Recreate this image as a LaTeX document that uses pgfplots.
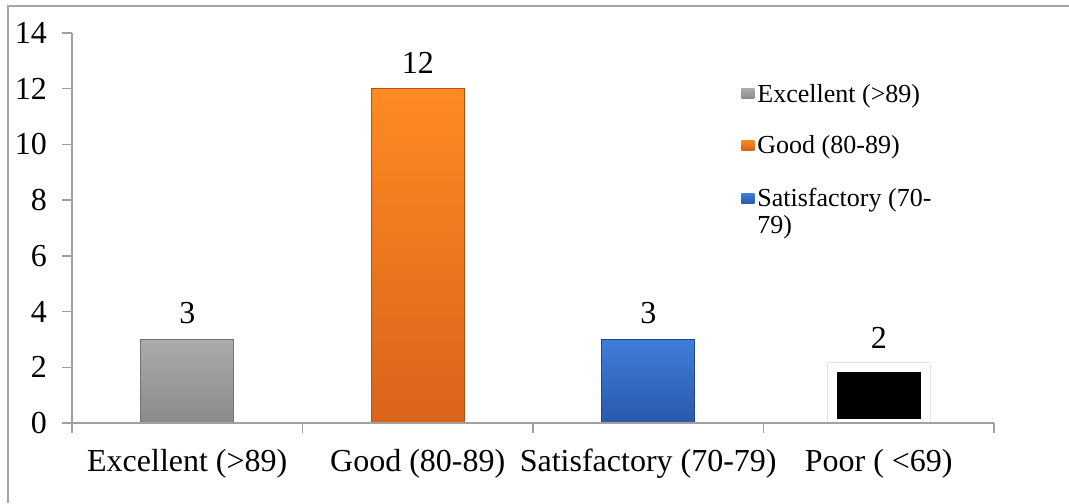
\documentclass[border=0pt]{standalone}
\usepackage{pgfplots}
\pgfplotsset{compat=1.18}
\usepackage{fontspec}
\setmainfont{Liberation Serif}
\definecolor{axisgray}{HTML}{A0A0A0}
\definecolor{framegray}{HTML}{A6A6A6}
\definecolor{grayTop}{HTML}{ABABAB}
\definecolor{grayBot}{HTML}{8A8A8A}
\definecolor{grayEdge}{HTML}{737373}
\definecolor{orTop}{HTML}{FF8A22}
\definecolor{orBot}{HTML}{D8631B}
\definecolor{orEdge}{HTML}{B35014}
\definecolor{blTop}{HTML}{3E7DDB}
\definecolor{blBot}{HTML}{2B59AA}
\definecolor{blEdge}{HTML}{23478A}

\pgfplotsset{
  boxlegend/.style={legend image code/.code={%
    \path[##1, draw=none] (0pt,1.8pt) rectangle (6.5pt,6.8pt);}},
}

\begin{document}
\begin{tikzpicture}
\path[use as bounding box] (0,0) rectangle (534.5pt,251.5pt);
% outer chart frame (only left and top edges are inside the picture)
\draw[framegray, line width=0.75pt] (4pt,0) -- (4pt,248.5pt) -- (534.5pt,248.5pt);

\begin{axis}[
    at={(36pt,40pt)}, anchor=south west,
    scale only axis, width=461pt, height=195pt,
    xmin=-0.5, xmax=3.5, ymin=0, ymax=14,
    enlargelimits=false,
    axis x line*=bottom, axis y line*=left,
    axis line style={axisgray, line width=0.75pt, -},
    tick style={axisgray, line width=0.75pt},
    tick align=outside, major tick length=5pt,
    xtick={-0.5,0.5,1.5,2.5,3.5}, xticklabels={},
    extra x ticks={0,1,2,3},
    extra x tick labels={Excellent (>89), Good (80-89), Satisfactory (70-79), Poor ( <69)},
    extra x tick style={major tick length=0pt, xticklabel style={yshift=-9.5pt}},
    ytick={0,2,...,14},
    yticklabel style={xshift=-4pt},
    ticklabel style={font=\fontsize{16}{19}\selectfont, text=black},
    /pgf/number format/assume math mode=true,
    nodes near coords,
    nodes near coords style={font=\fontsize{16}{19}\selectfont, text=black, yshift=4pt},
    axis on top,
    legend style={at={(0.7256,0.878)}, anchor=north west, draw=none, fill=none,
        font=\fontsize{13}{14}\selectfont, inner sep=0pt, row sep=12.3pt,
        cells={anchor=base west}, nodes={inner sep=1.5pt}},
]

\addplot[ybar, bar width=46.5pt, bar shift=0pt, draw=grayEdge, line width=0.6pt,
    top color=grayTop, bottom color=grayBot, boxlegend] coordinates {(0,3)};
\addlegendentry{Excellent (>89)}

\addplot[ybar, bar width=46.5pt, bar shift=0pt, draw=orEdge, line width=0.6pt,
    top color=orTop, bottom color=orBot, boxlegend] coordinates {(1,12)};
\addlegendentry{Good (80-89)}

\addplot[ybar, bar width=46.5pt, bar shift=0pt, draw=blEdge, line width=0.6pt,
    top color=blTop, bottom color=blBot, boxlegend] coordinates {(2,3)};
\addlegendentry{\begin{tabular}[t]{@{}l@{}}Satisfactory (70-\\[-0.5pt]79)\end{tabular}}

% Poor: black bar with a white glow border, not in the legend
\addplot[ybar, bar width=46.5pt, bar shift=0pt, fill=black, draw=white, line width=4.5pt,
    preaction={draw=black!10, line width=5.5pt}, forget plot] coordinates {(3,2)};

\end{axis}
\end{tikzpicture}
\end{document}
